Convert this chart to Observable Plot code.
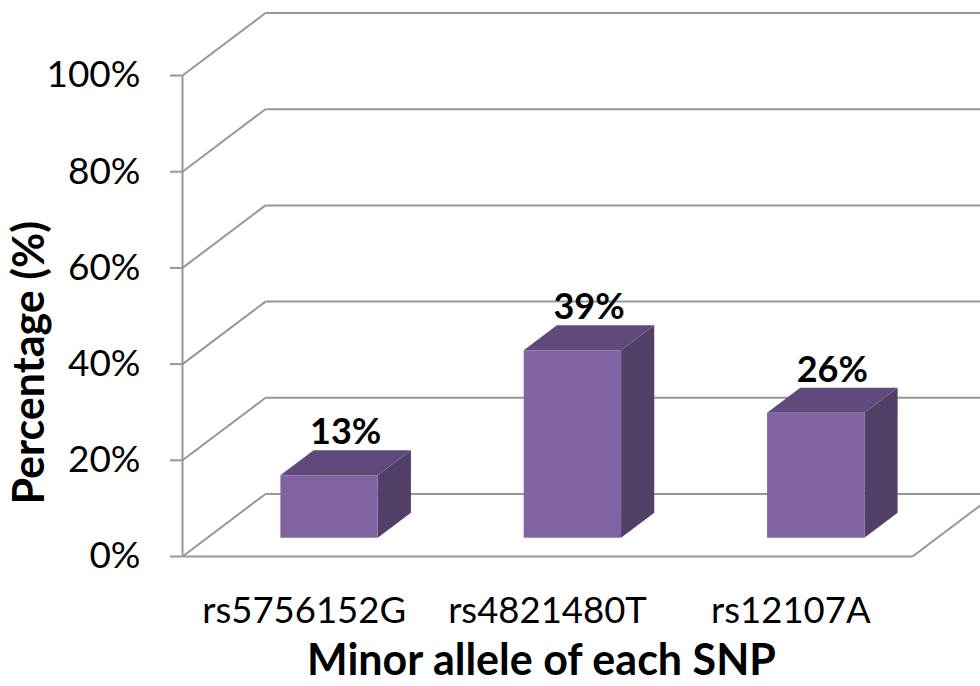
<!DOCTYPE html>
<html>
<head>
<meta charset="utf-8">
<script src="https://cdn.jsdelivr.net/npm/d3@7"></script>
<script src="https://cdn.jsdelivr.net/npm/@observablehq/plot@0.6"></script>
<style>
  html, body { margin: 0; padding: 0; background: #fff; }
  #chart { width: 980px; height: 686px; overflow: hidden; }
</style>
</head>
<body>
<div id="chart"></div>
<script>
// Minor allele frequency per SNP
const snps = ["rs5756152G", "rs4821480T", "rs12107A"];
const freq = [13, 39, 26];
const yTicks = [0, 20, 40, 60, 80, 100];

// Oblique 3D projection: one unit of depth shifts a point right (in category units)
// and up (in percentage points).
const DEPTH_X = 0.341;
const DEPTH_Y = 13;
const P = (x, v, z) => ({x: x + z * DEPTH_X, y: v + z * DEPTH_Y});

// Bar footprint inside its category slot and its depth range
const B0 = 0.3, B1 = 0.7, Z0 = 0.3, Z1 = 0.7;
const n = snps.length;

// Wall, floor and axis segments
const segs = [];
for (const t of yTicks) {
  const a = P(0, t, 1), b = P(n, t, 1);
  segs.push({x1: a.x, y1: a.y, x2: b.x, y2: b.y});          // back wall gridline
  const c = P(0, t, 0), d = P(0, t, 1);
  segs.push({x1: c.x, y1: c.y, x2: d.x, y2: d.y});          // side wall gridline
}
{
  const f0 = P(0, 0, 0), f1 = P(n, 0, 0), f2 = P(n, 0, 1), top = P(0, 100, 0);
  segs.push({x1: f0.x, y1: f0.y, x2: f1.x, y2: f1.y});      // floor front edge
  segs.push({x1: f1.x, y1: f1.y, x2: f2.x, y2: f2.y});      // floor right edge
  segs.push({x1: f0.x, y1: f0.y, x2: top.x, y2: top.y});    // value axis line
}

// Bar faces as polygons
const faces = [];
snps.forEach((s, i) => {
  const v = freq[i];
  const poly = (face, pts) => pts.forEach((p) => faces.push({id: `${s}-${face}`, face, ...p}));
  poly("side",  [P(i + B1, 0, Z0), P(i + B1, 0, Z1), P(i + B1, v, Z1), P(i + B1, v, Z0)]);
  poly("top",   [P(i + B0, v, Z0), P(i + B1, v, Z0), P(i + B1, v, Z1), P(i + B0, v, Z1)]);
  poly("front", [P(i + B0, 0, Z0), P(i + B1, 0, Z0), P(i + B1, v, Z0), P(i + B0, v, Z0)]);
});
const faceColor = {front: "#8064a2", top: "#604a7c", side: "#514068"};

// Value labels sit above the middle of each bar's top
const labels = snps.map((s, i) => {
  const p = P(i + 0.5, freq[i], Z1);
  const m = P(i + 0.5, freq[i], 0.5);
  return {x: m.x, y: p.y, text: `${freq[i]}%`};
});

const grid = "#979797";

const chart = Plot.plot({
  width: 980,
  height: 686,
  marginLeft: 182,
  marginRight: 0,
  marginTop: 12.5,
  marginBottom: 130,
  style: {fontFamily: "Lato, sans-serif", background: "#fff", color: "#000"},
  x: {domain: [0, n + DEPTH_X], range: [182, 995], axis: null},
  y: {domain: [0, 100 + DEPTH_Y], range: [556, 12.5], axis: null},
  marks: [
    Plot.link(segs, {x1: "x1", y1: "y1", x2: "x2", y2: "y2", stroke: grid, strokeWidth: 2}),
    Plot.axisY({
      ticks: yTicks,
      tickFormat: (d) => `${d}%`,
      tickSize: 12,
      tickPadding: 30,
      stroke: grid,
      strokeWidth: 2,
      fontSize: 37,
      label: null
    }),
    Plot.line(faces, {
      x: "x", y: "y", z: "id",
      fill: (d) => faceColor[d.face],
      curve: "linear-closed",
      stroke: null
    }),
    Plot.text(labels, {
      x: "x", y: "y", text: "text",
      fontSize: 36, fontWeight: "bold",
      lineAnchor: "bottom", dy: -6
    }),
    Plot.text(snps, {
      x: (d, i) => i + 0.5, y: () => 0, text: (d) => d,
      fontSize: 36.5, lineAnchor: "middle", dy: 55
    }),
    Plot.text(["Minor allele of each SNP"], {
      frameAnchor: "bottom", text: (d) => d,
      fontSize: 43, fontWeight: "bold", lineAnchor: "middle", textAnchor: "middle",
      dx: -40, dy: 105
    }),
    Plot.text(["Percentage (%)"], {
      frameAnchor: "left", text: (d) => d,
      fontSize: 43, fontWeight: "bold", lineAnchor: "middle", textAnchor: "middle",
      rotate: -90, dx: -152, dy: 78
    })
  ]
});

document.getElementById("chart").append(chart);
</script>
</body>
</html>
